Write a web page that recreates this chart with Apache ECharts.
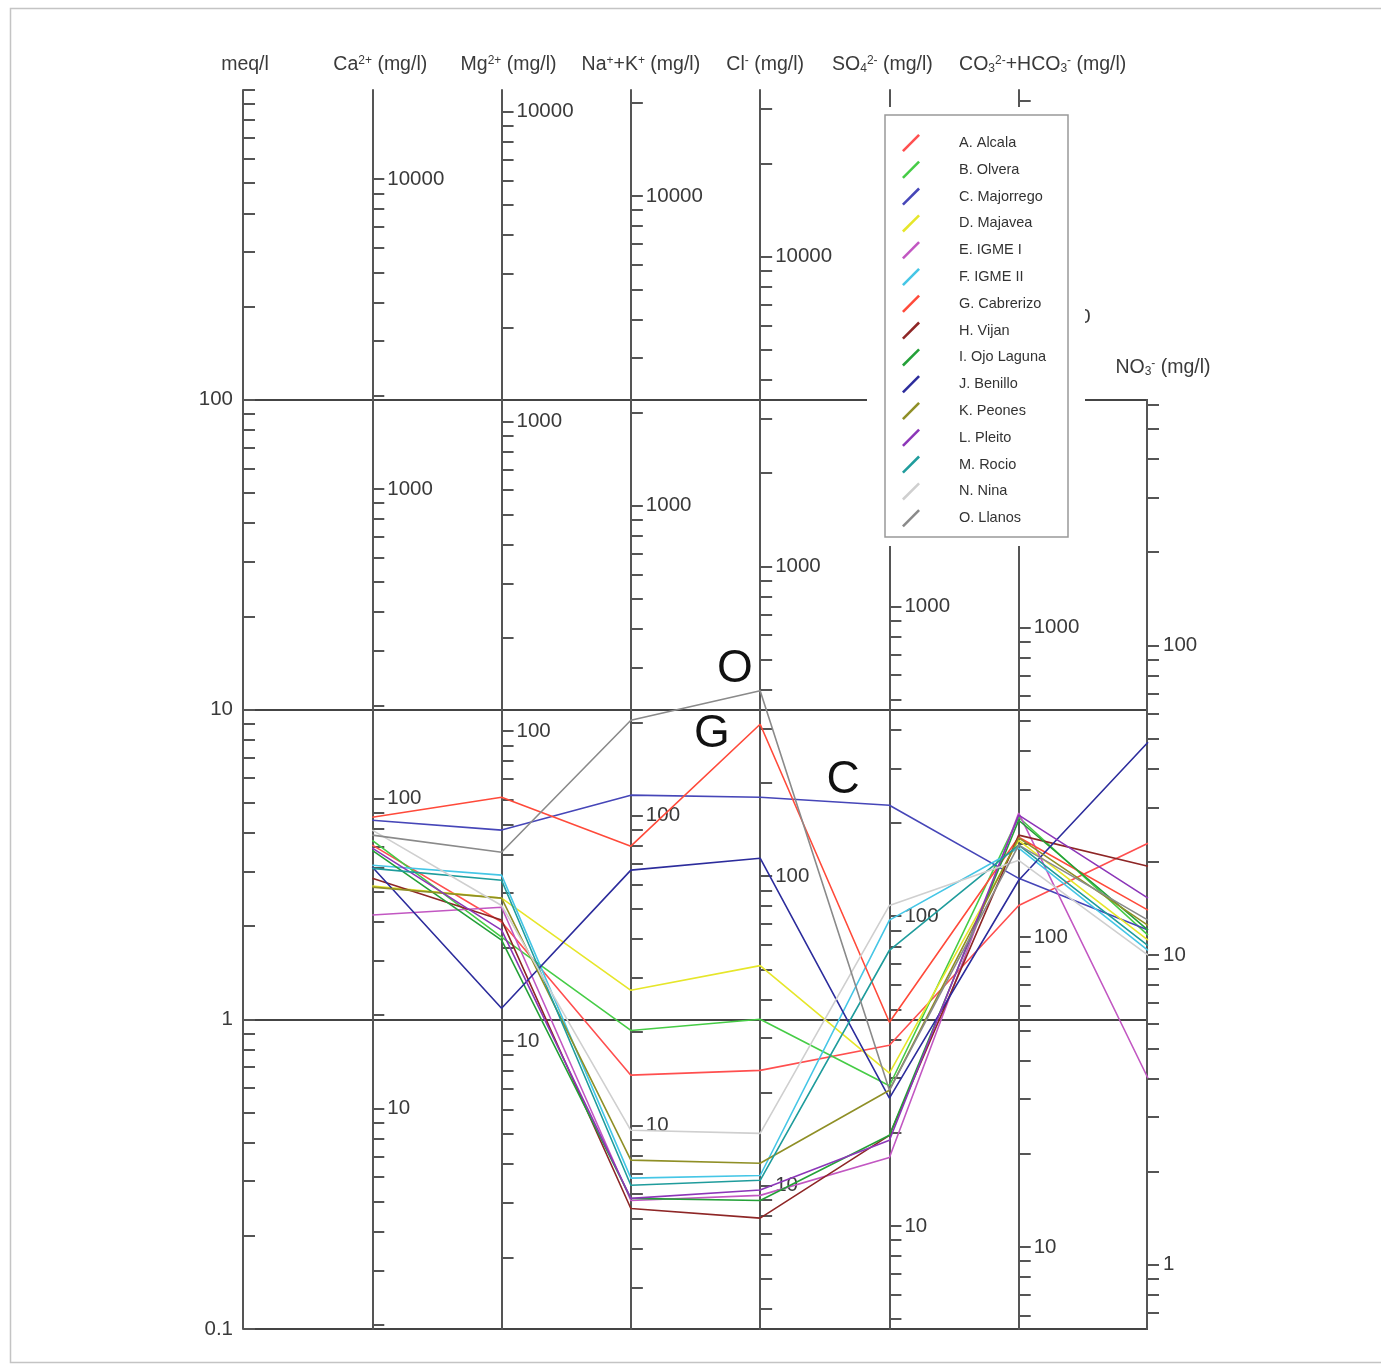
<!DOCTYPE html>
<html>
<head>
<meta charset="utf-8">
<script src="https://cdn.jsdelivr.net/npm/echarts@6/dist/echarts.min.js"></script>
<style>
html,body{margin:0;padding:0;background:#fff;}
#chart{width:1381px;height:1371px;}
</style>
</head>
<body>
<div id="chart"></div>
<script>
// ---------------- DATA (meq/l) ----------------
const IONS = ['meq/l', 'Ca', 'Mg', 'Na+K', 'Cl', 'SO4', 'HCO3', 'NO3'];
const SAMPLES = ['A. Alcala', 'B. Olvera', 'C. Majorrego', 'D. Majavea', 'E. IGME I', 'F. IGME II',
  'G. Cabrerizo', 'H. Vijan', 'I. Ojo Laguna', 'J. Benillo', 'K. Peones', 'L. Pleito', 'M. Rocio', 'N. Nina', 'O. Llanos'];
//                 Ca    Mg    Na+K   Cl     SO4    HCO3  NO3
const A_ALCALA    = [3.65, 2.06, 0.66,  0.684, 0.824, 2.33, 3.70];
const B_OLVERA    = [3.78, 1.84, 0.92,  1.00,  0.61,  4.49, 1.87];
const C_MAJORREGO = [4.39, 4.08, 5.29,  5.21,  4.91,  2.85, 1.94];
const D_MAJAVEA   = [2.69, 2.46, 1.24,  1.49,  0.67,  3.78, 1.80];
const E_IGME1     = [2.17, 2.30, 0.26,  0.27,  0.358, 4.63, 0.645];
const F_IGME2     = [3.14, 2.92, 0.307, 0.313, 2.09,  3.57, 1.67];
const G_CABRERIZO = [4.49, 5.21, 3.62,  8.96,  0.978, 3.87, 2.25];
const H_VIJAN     = [2.85, 2.09, 0.245, 0.228, 0.422, 3.93, 3.12];
const I_OJOLAGUNA = [3.51, 1.80, 0.264, 0.26,  0.422, 4.39, 1.94];
const J_BENILLO   = [3.10, 1.085,3.03,  3.31,  0.556, 2.81, 7.84];
const K_PEONES    = [2.67, 2.46, 0.351, 0.343, 0.59,  3.85, 2.01];
const L_PLEITO    = [3.57, 1.94, 0.264, 0.281, 0.407, 4.56, 2.46];
const M_ROCIO     = [3.07, 2.81, 0.291, 0.302, 1.67,  3.65, 1.73];
const N_NINA      = [4.08, 2.33, 0.438, 0.428, 2.33,  3.26, 1.61];
const O_LLANOS    = [3.93, 3.46, 9.23,  11.5,  0.59,  3.65, 2.09];
const SERIES_VALUES = [A_ALCALA, B_OLVERA, C_MAJORREGO, D_MAJAVEA, E_IGME1, F_IGME2, G_CABRERIZO,
  H_VIJAN, I_OJOLAGUNA, J_BENILLO, K_PEONES, L_PLEITO, M_ROCIO, N_NINA, O_LLANOS];
const COLORS = ['#ff4f4f', '#46cc46', '#4646b8', '#e6e62a', '#c257c2', '#45c6e6', '#ff4a3a',
  '#8e2626', '#24a038', '#2c2c9c', '#8f8f26', '#8c36b8', '#1f9c9c', '#cfcfcf', '#8a8a8a'];

// mg/l per meq/l used by each parallel axis
const MG_PER_MEQ = [19.4, 11.75, 22.0, 34.5, 46.5, 54.3, 6.2];
const MEQ_LABELS = [0.1, 1, 10, 100];
const ION_LABELS = [10, 100, 1000, 10000];
const NO3_LABELS = [1, 10, 100];
const MEQ_RANGE = [0.1, 1000];
const NO3_MEQ_RANGE = [0.1, 100];

const AXIS_NAMES = [
  '{a|Ca}{s|2+}{a| (mg/l)}',
  '{a|Mg}{s|2+}{a| (mg/l)}',
  '{a|Na}{s|+}{a|+K}{s|+}{a| (mg/l)}',
  '{a|Cl}{s|-}{a| (mg/l)}',
  '{a|SO}{b|4}{s|2-}{a| (mg/l)}',
  '{a|CO}{b|3}{s|2-}{a|+HCO}{b|3}{s|-}{a| (mg/l)}',
  '{a|NO}{b|3}{s|-}{a| (mg/l)}'
];
const NAME_SHIFT = [16, 14, 20, 10, -14, 48, 32];

// ---------------- helpers ----------------
function logTicks(lo, hi) {
  const out = [];
  for (let p = -3; p <= 6; p++) {
    for (let k = 1; k <= 9; k++) {
      const v = +(k * Math.pow(10, p)).toPrecision(4);
      if (v >= lo * 0.9999 && v <= hi * 1.0001) out.push(v);
    }
  }
  return out;
}
const FONT = "'Liberation Sans', Arial, Helvetica, sans-serif";
const AXIS_COLOR = '#555';
const TEXT_COLOR = '#3a3a3a';
const fmt = v => String(+(+v).toPrecision(3));
const richName = {
  a: { fontSize: 19.5, color: TEXT_COLOR, fontFamily: FONT },
  s: { fontSize: 12, color: TEXT_COLOR, fontFamily: FONT, verticalAlign: 'top' },
  b: { fontSize: 12, color: TEXT_COLOR, fontFamily: FONT, verticalAlign: 'bottom' }
};

const GRID_LEFT = 243, GRID_RIGHT_X = 1148, GRID_TOP = 90, GRID_BOTTOM_Y = 1329;
const W = 1381, H = 1371;
const STEP = (GRID_RIGHT_X - GRID_LEFT) / 7;
const TICK_FONT = 20.5;

const yAxes = [];
// meq/l axis (labels + split lines)
yAxes.push({
  type: 'log', logBase: 10, gridIndex: 0, min: MEQ_RANGE[0], max: MEQ_RANGE[1], position: 'left',
  name: '{a|meq/l}', nameLocation: 'end', nameGap: 15,
  nameTextStyle: { rich: richName, align: 'center', padding: [0, 0, 0, 4] },
  axisLine: { show: true, lineStyle: { color: AXIS_COLOR, width: 2 } },
  axisTick: { show: false },
  axisLabel: { customValues: MEQ_LABELS, formatter: fmt, fontSize: TICK_FONT, color: TEXT_COLOR, fontFamily: FONT, margin: 10 },
  splitLine: { show: true, showMaxLine: false, lineStyle: { color: '#444', width: 2 } }
});
// meq/l minor ticks
yAxes.push({
  type: 'log', logBase: 10, gridIndex: 0, min: MEQ_RANGE[0], max: MEQ_RANGE[1], position: 'left',
  axisLine: { show: false },
  axisTick: { show: true, inside: true, length: 12, customValues: logTicks(MEQ_RANGE[0], MEQ_RANGE[1]), lineStyle: { color: AXIS_COLOR, width: 2 } },
  axisLabel: { show: false },
  splitLine: { show: false }
});
// ion axes in mg/l
for (let i = 0; i < 6; i++) {
  const f = MG_PER_MEQ[i];
  const lo = MEQ_RANGE[0] * f, hi = MEQ_RANGE[1] * f;
  yAxes.push({
    type: 'log', logBase: 10, gridIndex: 0, min: lo, max: hi, position: 'right',
    offset: -(6 - i) * STEP,
    name: AXIS_NAMES[i], nameLocation: 'end', nameGap: 15,
    nameTextStyle: { rich: richName, align: 'center',
      padding: NAME_SHIFT[i] >= 0 ? [0, 0, 0, NAME_SHIFT[i]] : [0, -NAME_SHIFT[i], 0, 0] },
    axisLine: { show: true, lineStyle: { color: AXIS_COLOR, width: 2 } },
    axisTick: { show: true, inside: false, length: 12, customValues: logTicks(lo, hi), lineStyle: { color: AXIS_COLOR, width: 2 } },
    axisLabel: { customValues: ION_LABELS, formatter: fmt, fontSize: TICK_FONT, color: TEXT_COLOR, fontFamily: FONT, margin: 15 },
    splitLine: { show: false }
  });
}
// NO3 axis (shorter, its own grid)
{
  const f = MG_PER_MEQ[6];
  const lo = NO3_MEQ_RANGE[0] * f, hi = NO3_MEQ_RANGE[1] * f;
  yAxes.push({
    type: 'log', logBase: 10, gridIndex: 1, min: lo, max: hi, position: 'right',
    name: AXIS_NAMES[6], nameLocation: 'end', nameGap: 22,
    nameTextStyle: { rich: richName, align: 'center', padding: [0, 0, 0, NAME_SHIFT[6]] },
    axisLine: { show: true, lineStyle: { color: AXIS_COLOR, width: 2 } },
    axisTick: { show: true, inside: false, length: 12, customValues: logTicks(lo, hi), lineStyle: { color: AXIS_COLOR, width: 2 } },
    axisLabel: { customValues: NO3_LABELS, formatter: fmt, fontSize: TICK_FONT, color: TEXT_COLOR, fontFamily: FONT, margin: 15 },
    splitLine: { show: false }
  });
}

const series = SAMPLES.map((name, si) => ({
  name: name,
  type: 'line',
  xAxisIndex: 0, yAxisIndex: 0,
  symbol: 'none',
  silent: true,
  color: COLORS[si],
  lineStyle: { width: 1.6, color: COLORS[si] },
  data: SERIES_VALUES[si].map((v, k) => [IONS[k + 1], v]),
  z: 2
}));

const option = {
  animation: false,
  backgroundColor: '#fff',
  grid: [
    { left: GRID_LEFT, right: W - GRID_RIGHT_X, top: GRID_TOP, bottom: H - GRID_BOTTOM_Y, containLabel: false, outerBoundsMode: 'none' },
    { left: GRID_RIGHT_X - 1, width: 1, top: 400, bottom: H - GRID_BOTTOM_Y, containLabel: false, outerBoundsMode: 'none' }
  ],
  xAxis: [
    { type: 'category', gridIndex: 0, data: IONS, boundaryGap: false, show: false },
    { type: 'value', gridIndex: 1, show: false }
  ],
  yAxis: yAxes,
  legend: {
    orient: 'vertical', left: 902, top: 134, padding: 0,
    itemWidth: 20, itemHeight: 18, itemGap: 8.8,
    icon: 'path://M0,18 L18,0 L20,2 L2,20 Z',
    selectedMode: false,
    textStyle: { fontSize: 14.5, color: '#333', fontFamily: FONT, padding: [0, 0, 0, 33] },
    data: SAMPLES,
    z: 6
  },
  graphic: [
    { type: 'rect', z: 1, silent: true, shape: { x: 10.5, y: 8.5, width: 1400, height: 1354 }, style: { fill: 'none', stroke: '#c4c4c4', lineWidth: 1.5 } },
    { type: 'rect', z: 4, silent: true, shape: { x: 867, y: 107, width: 218, height: 439 }, style: { fill: '#fff' } },
    { type: 'rect', z: 5, silent: true, shape: { x: 885, y: 115, width: 183, height: 422 }, style: { fill: '#fff', stroke: '#999', lineWidth: 1.5 } },
    { type: 'text', z: 7, silent: true, x: 735, y: 669, style: { text: 'O', fontSize: 46, fontFamily: FONT, fill: '#111', align: 'center', verticalAlign: 'middle' } },
    { type: 'text', z: 7, silent: true, x: 712, y: 734, style: { text: 'G', fontSize: 46, fontFamily: FONT, fill: '#111', align: 'center', verticalAlign: 'middle' } },
    { type: 'text', z: 7, silent: true, x: 843, y: 780, style: { text: 'C', fontSize: 46, fontFamily: FONT, fill: '#111', align: 'center', verticalAlign: 'middle' } }
  ],
  series: series
};

const chart = echarts.init(document.getElementById('chart'), null, { renderer: 'canvas', width: W, height: H });
chart.setOption(option);
</script>
</body>
</html>
